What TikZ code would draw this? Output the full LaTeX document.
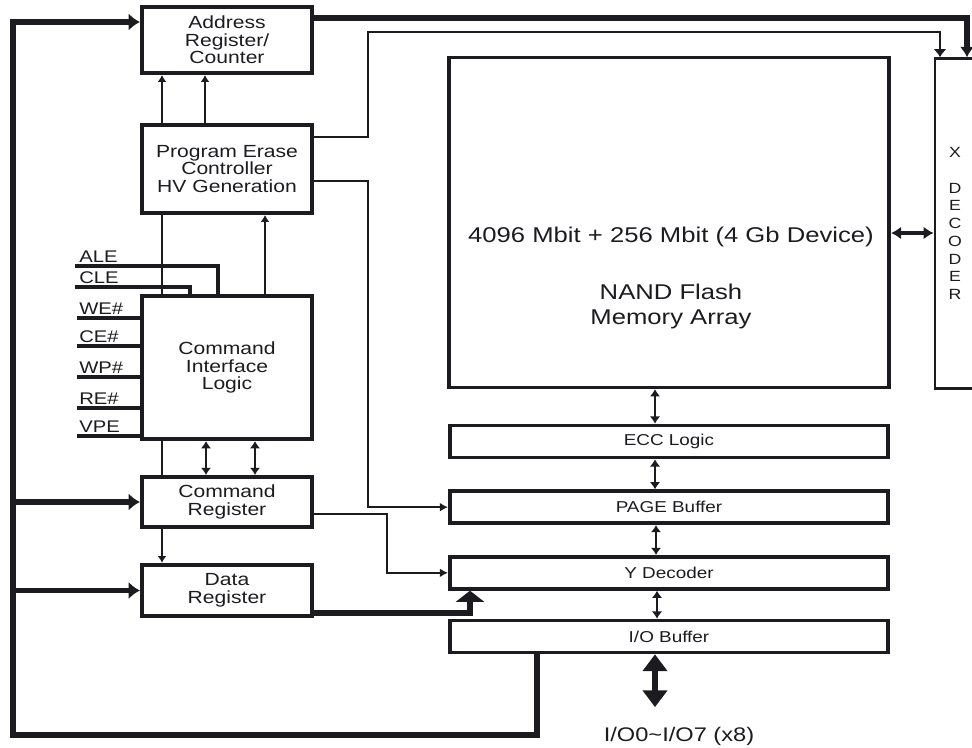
\documentclass[tikz,border=0pt]{standalone}
\usepackage{fontspec}
\setmainfont{Liberation Sans}[FakeStretch=1.2]
\usepackage{tikz}
\usetikzlibrary{arrows.meta}
\usetikzlibrary{positioning}
\definecolor{ink}{RGB}{28, 28, 32}

\begin{document}
\begin{tikzpicture}[%
    x=0.025cm, y=-0.025cm,     % one unit is one pixel of the sheet, y downwards
    >=Latex,                   % default tip
    node distance=0.75cm,      % gap between the stacked strips
    every node/.style={text=ink},
    ]
% -------------------------------------------------
% Box and line styles
\tikzset{
  base/.style={draw=ink, line width=2.6pt, align=center, inner sep=0pt},
  ctrl/.style={base, minimum width=4.26cm, font=\fontsize{12.5}{12.6}\selectfont},
  strip/.style={base, minimum width=10.96cm, minimum height=0.8cm, font=\fontsize{11.2}{12}\selectfont},
  array/.style={base, minimum width=11.01cm, minimum height=8.24cm},
  xdecbox/.style={base, line width=2pt, minimum width=1cm, minimum height=8.24cm,
    font=\fontsize{10.5}{12.6}\selectfont},
  pinlbl/.style={anchor=base west, inner sep=0pt, font=\fontsize{12}{12}\selectfont},
  % -------------------------------------------------
  busline/.style={draw=ink, line width=3.6pt, -{Latex[length=0.28cm, width=0.43cm]}},
  heavy/.style={draw=ink, line width=3.6pt},
  mid/.style={draw=ink, line width=2.1pt},
  pinline/.style={draw=ink, line width=2.4pt},
  thinl/.style={draw=ink, line width=1.4pt, -{Latex[length=0.2cm, width=0.22cm]}},
  small/.style={mid, {Latex[length=0.18cm, width=0.26cm]}-{Latex[length=0.18cm, width=0.26cm]}},
  up/.style={mid, -{Latex[length=0.17cm, width=0.22cm]}}
  }
\useasboundingbox (0,0) rectangle (972,748);
% -------------------------------------------------
% Control column
\node [ctrl, minimum height=1.66cm] (addr) at (227,40) {Address\\Register/\\Counter};
\node [ctrl, minimum height=2.21cm] (pec) at (227,169) {Program Erase\\Controller\\HV Generation};
\node [ctrl, minimum height=3.59cm] (cil) at (227,367.5) {Command\\Interface\\Logic};
\node [ctrl, minimum height=1.26cm] (creg) at (227,502) {Command\\Register};
\node [ctrl, minimum height=1.29cm] (dreg) at (227,590.5) {Data\\Register};

% Array column
\node [array] (mem) at (669,222.5) {};
\node [font=\fontsize{15.2}{17.8}\selectfont, align=center] (memtxt) at (671,278)
  {4096 Mbit + 256 Mbit (4 Gb Device)\\[22.7pt] NAND Flash\\Memory Array};
\node [xdecbox] (xdec) at (955,223.5) {X\\ \\D\\E\\C\\O\\D\\E\\R};

\node [strip] (ecc) at (669,441.5) {ECC Logic};
\node [strip, below=of ecc] (page) {PAGE Buffer};
\node [strip, below=of page] (ydec) {Y Decoder};
\node [strip, below=0.7cm of ydec] (iob) {I/O Buffer};
\node [font=\fontsize{14}{16}\selectfont, inner sep=1pt] (iolbl) at (679,736) {I/O0\textasciitilde I/O7 (x8)};

% -------------------------------------------------
% Pins into the command logic
\coordinate (ale) at (75,266);
\coordinate (cle) at (75,287);
\draw [pinline] (ale) -| (cil.north -| 218,0);
\draw [pinline] (cle) -| (cil.north -| 190,0);
\node [pinlbl] at (79,262.5) {ALE};
\node [pinlbl] at (79,283.5) {CLE};
\foreach \pin/\y in {WE\#/318, CE\#/346, WP\#/377, RE\#/408, VPE/436} {
  \draw [pinline] (77,\y) -- (cil.west |- 77,\y);
  \node [pinlbl] at (79,\y-3.5) {\pin};
}

% -------------------------------------------------
% Address bus loop from the I/O buffer
\coordinate (busbot) at (537,735);
\coordinate (busleft) at (13,735);
\coordinate (bustop) at (13,22);
\draw [busline] (iob.south -| busbot) -- (busbot) -- (busleft) -- (bustop) -- (bustop -| addr.west);
\draw [busline] (busleft |- creg.west) -- (creg.west);
\draw [busline] (busleft |- dreg.west) -- (dreg.west);

% Address to X decoder
\coordinate (xa) at (967,18);
\draw [heavy, -{Latex[length=0.26cm, width=0.36cm]}] (addr.east |- xa) -- (xa) -- (xa |- xdec.north);

% Program erase controller outputs
\coordinate (pk) at (368,137);
\coordinate (xb) at (940,32);
\draw [mid, -{Latex[length=0.2cm, width=0.32cm]}] (pec.east |- pk) -- (pk) -- (pk |- xb) -- (xb) -- (xb |- xdec.north);
\coordinate (pp) at (368,181);
\draw [thinl] (pec.east |- pp) -- (pp) |- (page.west);
\draw [up] (pec.north -| 162,0) -- (addr.south -| 162,0);
\draw [up] (pec.north -| 205,0) -- (addr.south -| 205,0);

% Command logic links
\draw [up] (cil.north -| 265,0) -- (pec.south -| 265,0);
\draw [mid] (pec.south -| 162,0) -- (cil.north -| 162,0);
\draw [mid] (cil.south -| 162,0) -- (creg.north -| 162,0);
\draw [small] (cil.south -| 206,0) -- (creg.north -| 206,0);
\draw [small] (cil.south -| 255,0) -- (creg.north -| 255,0);
\draw [up] (creg.south -| 162,0) -- (dreg.north -| 162,0);

% Registers to Y decoder
\coordinate (cy) at (387,514);
\draw [thinl] (creg.east |- cy) -- (cy) |- (ydec.west);
\coordinate (dy) at (470,613);
\draw [heavy, -{Triangle[length=0.28cm, width=0.7cm]}] (dreg.east |- dy) -- (dy) -- (dy |- ydec.south);

% -------------------------------------------------
% Data path through the array column
\coordinate (mx) at (0,233);
\draw [heavy, line width=3pt, {Latex[length=0.25cm, width=0.32cm]}-{Latex[length=0.25cm, width=0.32cm]}] (mem.east |- mx) -- (xdec.west |- mx);
\draw [small] (mem.south -| 655,0) -- (ecc.north -| 655,0);
\draw [small] (ecc.south -| 655,0) -- (page.north -| 655,0);
\draw [small] (page.south -| 656,0) -- (ydec.north -| 656,0);
\draw [small] (ydec.south -| 657,0) -- (iob.north -| 657,0);
\draw [draw=ink, line width=4.5pt, {Triangle[length=0.42cm, width=0.6cm]}-{Triangle[length=0.42cm, width=0.6cm]},
  shorten >=0.45cm] (iob.south -| 655,0) -- (iolbl.north -| 655,0);
\end{tikzpicture}
\end{document}
